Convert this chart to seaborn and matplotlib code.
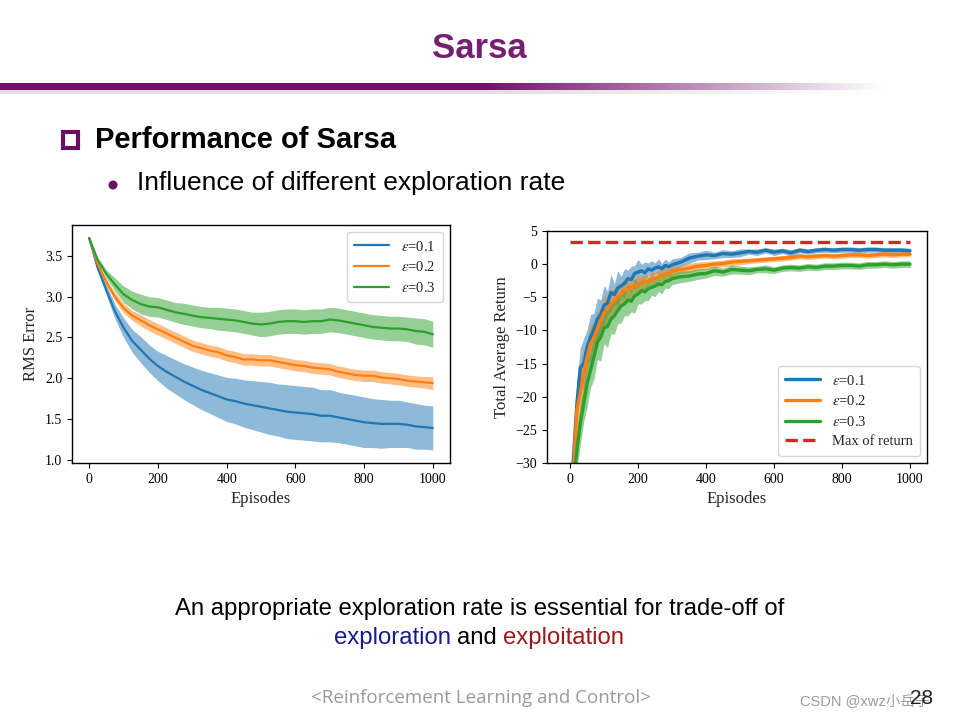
import numpy as np
import pandas as pd
import matplotlib
matplotlib.use("Agg")
import matplotlib.pyplot as plt
import seaborn as sns
from matplotlib.patches import Rectangle, Ellipse

# ---------------- data: left chart (RMS error) ----------------
rms_episodes = list(range(0, 1001, 25))
rms_eps01 = [3.72, 3.35, 3.08, 2.82, 2.62, 2.46, 2.35, 2.24, 2.15, 2.08, 2.02, 1.96, 1.91, 1.86,
             1.82, 1.78, 1.74, 1.72, 1.69, 1.67, 1.65, 1.63, 1.61, 1.59, 1.58, 1.57, 1.56, 1.54,
             1.54, 1.52, 1.50, 1.48, 1.46, 1.45, 1.44, 1.44, 1.44, 1.43, 1.41, 1.40, 1.39]
rms_eps02 = [3.72, 3.40, 3.18, 3.00, 2.86, 2.77, 2.71, 2.65, 2.60, 2.55, 2.50, 2.45, 2.40, 2.37,
             2.34, 2.32, 2.28, 2.26, 2.23, 2.23, 2.22, 2.22, 2.20, 2.18, 2.16, 2.15, 2.13, 2.12,
             2.11, 2.08, 2.06, 2.04, 2.03, 2.03, 2.01, 2.00, 1.99, 1.97, 1.96, 1.95, 1.94]
rms_eps03 = [3.72, 3.45, 3.28, 3.15, 3.03, 2.96, 2.91, 2.88, 2.87, 2.84, 2.81, 2.79, 2.77, 2.75,
             2.74, 2.73, 2.72, 2.71, 2.69, 2.67, 2.66, 2.67, 2.69, 2.70, 2.70, 2.69, 2.70, 2.70,
             2.72, 2.71, 2.69, 2.67, 2.65, 2.63, 2.62, 2.61, 2.61, 2.60, 2.58, 2.57, 2.54]
rms_half01 = [0.0, 0.03, 0.06, 0.09, 0.12, 0.14, 0.16, 0.17, 0.18, 0.20, 0.21, 0.22, 0.23, 0.24,
              0.25, 0.26, 0.27, 0.28, 0.29, 0.30, 0.31, 0.32, 0.32, 0.33, 0.33, 0.33, 0.33, 0.32,
              0.32, 0.31, 0.31, 0.31, 0.31, 0.30, 0.30, 0.29, 0.29, 0.28, 0.28, 0.27, 0.27]
rms_half02 = [0.0, 0.02, 0.04, 0.05, 0.06, 0.06, 0.07, 0.07, 0.07, 0.07, 0.07, 0.07, 0.07, 0.07,
              0.07, 0.07, 0.07, 0.07, 0.07, 0.07, 0.07, 0.07, 0.07, 0.07, 0.07, 0.07, 0.07, 0.07,
              0.07, 0.07, 0.07, 0.07, 0.07, 0.07, 0.07, 0.07, 0.07, 0.07, 0.07, 0.07, 0.08]
rms_half03 = [0.0, 0.03, 0.05, 0.08, 0.10, 0.11, 0.12, 0.12, 0.12, 0.12, 0.12, 0.13, 0.13, 0.13,
              0.13, 0.14, 0.14, 0.14, 0.14, 0.14, 0.15, 0.15, 0.15, 0.15, 0.15, 0.15, 0.15, 0.15,
              0.15, 0.15, 0.15, 0.15, 0.15, 0.15, 0.15, 0.15, 0.15, 0.15, 0.16, 0.16, 0.16]

# ---------------- data: right chart (total average return) ----------------
ret_episodes = list(range(0, 301, 10)) + list(range(325, 1001, 25))
ret_eps01 = [-36, -29, -21, -15.6, -15.0, -12.5, -11.0, -9.8, -8.3, -7.6, -6.2,
             -5.9, -4.3, -4.6, -3.6, -3.3, -2.9, -2.2, -2.3, -1.4, -1.2,
             -1.0, -1.3, -0.7, -0.9, -0.6, -0.4, -0.7, -0.2, -0.4, -0.1,
             0.3, 0.9, 1.2, 1.4, 1.3, 1.6, 1.5, 1.7, 1.9, 1.8, 2.1, 1.8, 2.0, 1.7,
             2.1, 1.9, 2.1, 2.2, 2.1, 2.2, 2.2, 2.1, 2.2, 2.2, 2.1, 2.1, 2.1, 2.0]
ret_eps02 = [-37, -31, -22, -19.5, -16.5, -14.0, -12.0, -11.2, -9.8, -8.6, -7.3,
             -6.8, -6.0, -5.6, -4.9, -4.5, -4.0, -3.9, -3.4, -3.5, -3.1,
             -2.9, -2.6, -2.7, -2.3, -2.1, -1.9, -1.7, -1.5, -1.4, -1.1,
             -0.8, -0.6, -0.3, -0.2, 0.0, 0.1, 0.3, 0.4, 0.5, 0.6, 0.7, 0.8, 0.9, 1.0,
             1.2, 1.1, 1.2, 1.3, 1.2, 1.3, 1.4, 1.4, 1.3, 1.4, 1.5, 1.4, 1.5, 1.5]
ret_eps03 = [-40, -33, -28, -24, -21, -18, -16, -14, -11.8, -11, -9.6,
             -9.4, -8.3, -7.8, -7.0, -6.3, -6.0, -5.4, -5.6, -4.8, -4.5,
             -4.0, -4.2, -3.7, -3.5, -3.3, -3.0, -3.1, -2.6, -2.5, -2.2,
             -1.9, -1.8, -1.5, -1.4, -1.0, -1.2, -0.8, -0.9, -1.0, -0.8, -0.7, -0.9, -0.6, -0.5,
             -0.6, -0.4, -0.5, -0.3, -0.3, -0.2, -0.2, -0.3, -0.1, -0.1, 0.0, -0.1, 0.0, 0.0]
ret_half01 = [1.5, 2.5, 3.5, 3.0, 3.8, 2.6, 3.4, 2.4, 3.2, 2.2, 3.0,
              1.8, 2.8, 1.6, 2.6, 1.5, 2.2, 1.3, 2.0, 1.2, 1.9,
              1.0, 1.6, 0.9, 1.4, 0.8, 1.2, 0.8, 1.0, 0.7, 0.9,
              0.7, 0.8, 0.6, 0.7, 0.5, 0.6, 0.5, 0.6, 0.4, 0.5,
              0.4, 0.5, 0.4, 0.5, 0.4, 0.4, 0.4, 0.4, 0.4, 0.4,
              0.4, 0.4, 0.4, 0.4, 0.4, 0.4, 0.4, 0.4]
ret_half02 = [1.5, 2.5, 3.0, 2.6, 3.2, 2.4, 3.0, 2.2, 2.8, 2.0, 2.6,
              1.7, 2.4, 1.5, 2.2, 1.4, 2.0, 1.2, 1.8, 1.1, 1.6,
              1.0, 1.4, 0.9, 1.2, 0.8, 1.1, 0.7, 1.0, 0.7, 0.8,
              0.6, 0.7, 0.6, 0.6, 0.5, 0.5, 0.5, 0.5, 0.4, 0.4,
              0.4, 0.4, 0.4, 0.4, 0.4, 0.4, 0.4, 0.4, 0.4, 0.4,
              0.4, 0.4, 0.4, 0.4, 0.4, 0.4, 0.4, 0.4]
ret_half03 = [1.5, 2.5, 3.0, 3.2, 2.8, 3.6, 2.6, 3.4, 2.6, 3.6, 2.4,
              3.2, 2.2, 2.8, 2.0, 2.6, 1.8, 2.4, 1.6, 2.6, 1.5,
              2.0, 1.3, 1.8, 1.2, 1.6, 1.1, 1.4, 1.0, 1.2, 0.9,
              0.9, 0.8, 0.8, 0.7, 0.7, 0.6, 0.7, 0.6, 0.6, 0.5,
              0.6, 0.5, 0.5, 0.5, 0.5, 0.5, 0.5, 0.5, 0.5, 0.5,
              0.5, 0.5, 0.5, 0.5, 0.5, 0.5, 0.5, 0.5]
max_return = 3.3

series_labels = [r"$\varepsilon$=0.1", r"$\varepsilon$=0.2", r"$\varepsilon$=0.3"]
series_colors = ["#1f77b4", "#ff7f0e", "#2ca02c"]

rms_xticks = [0, 200, 400, 600, 800, 1000]
rms_yticks = [1.0, 1.5, 2.0, 2.5, 3.0, 3.5]
ret_yticks = [-30, -25, -20, -15, -10, -5, 0, 5]


def long_frame(x, means, halves):
    rows = []
    for lab, m, h in zip(series_labels, means, halves):
        for xi, mi, hi in zip(x, m, h):
            rows.append((xi, mi - hi, lab))
            rows.append((xi, mi, lab))
            rows.append((xi, mi + hi, lab))
    return pd.DataFrame(rows, columns=["Episodes", "value", "series"])


df_rms = long_frame(rms_episodes, [rms_eps01, rms_eps02, rms_eps03],
                    [rms_half01, rms_half02, rms_half03])
df_ret = long_frame(ret_episodes, [ret_eps01, ret_eps02, ret_eps03],
                    [ret_half01, ret_half02, ret_half03])

sns.set_theme(style="ticks")
plt.rcParams["font.family"] = ["Liberation Serif", "DejaVu Serif"]
plt.rcParams["mathtext.fontset"] = "stix"
plt.rcParams["axes.edgecolor"] = "black"
plt.rcParams["xtick.color"] = "black"
plt.rcParams["ytick.color"] = "black"
plt.rcParams["axes.linewidth"] = 1.0

W, H = 960, 720
fig = plt.figure(figsize=(9.6, 7.2), dpi=100)
fig.patch.set_facecolor("white")


def fx(px):
    return px / W


def fy(py):
    return 1 - py / H


palette = dict(zip(series_labels, series_colors))

# ---------------- left axes ----------------
axL = fig.add_axes([fx(72), fy(463), (450 - 72) / W, (463 - 225) / H])
sns.lineplot(data=df_rms, x="Episodes", y="value", hue="series", hue_order=series_labels,
             palette=palette, estimator="median", errorbar=("pi", 100),
             err_kws={"alpha": 0.5, "linewidth": 0}, linewidth=1.6, ax=axL)
axL.set_xlim(-50, 1050)
axL.set_ylim(0.96, 3.88)
axL.set_xticks(rms_xticks)
axL.set_yticks(rms_yticks)
axL.set_xlabel("Episodes", fontsize=12)
axL.set_ylabel("RMS Error", fontsize=12)
axL.tick_params(labelsize=10, length=3.5, width=0.8)
h, l = axL.get_legend_handles_labels()
legL = axL.legend(h[:3], l[:3], loc="upper right", fontsize=10.5, frameon=True,
                  handlelength=2.4, borderpad=0.5, labelspacing=0.45)
legL.get_frame().set_edgecolor("#cccccc")

# ---------------- right axes ----------------
axR = fig.add_axes([fx(547), fy(463), (927 - 547) / W, (463 - 231) / H])
sns.lineplot(data=df_ret, x="Episodes", y="value", hue="series", hue_order=series_labels,
             palette=palette, estimator="median", errorbar=("pi", 100),
             err_kws={"alpha": 0.5, "linewidth": 0}, linewidth=2.4, ax=axR)
sns.lineplot(x=[0, 1000], y=[max_return, max_return], color="#d62728", linestyle="--",
             linewidth=2.4, label="Max of return", ax=axR)
axR.set_xlim(-68, 1050)
axR.set_ylim(-30, 5)
axR.set_xticks(rms_xticks)
axR.set_yticks(ret_yticks)
axR.set_xlabel("Episodes", fontsize=12)
axR.set_ylabel("Total Average Return", fontsize=12)
axR.tick_params(labelsize=10, length=3.5, width=0.8)
h, l = axR.get_legend_handles_labels()
legR = axR.legend(h, l, loc="lower right", fontsize=10.5, frameon=True,
                  handlelength=2.4, borderpad=0.5, labelspacing=0.45)
legR.get_frame().set_edgecolor("#cccccc")

# ---------------- slide decorations ----------------
fig.text(fx(479), fy(48), "Sarsa", ha="center", va="center", fontsize=25, fontweight="bold",
         color="#742070", family=["Liberation Sans", "DejaVu Sans"])

# gradient rule below title
barax = fig.add_axes([0, fy(90), fx(885), 7 / H])
n = 400
grad = np.zeros((1, n, 4))
purple = np.array([0.45, 0.07, 0.42])
xs = np.linspace(0, 1, n)
alpha = np.clip((1.0 - xs) / 0.45, 0, 1)
grad[0, :, :3] = purple
grad[0, :, 3] = alpha
barax.imshow(grad, aspect="auto", extent=[0, 1, 0, 1])
barax.axis("off")
shadow = fig.add_axes([0, fy(94), fx(885), 4 / H])
sh = np.zeros((1, n, 4))
sh[0, :, :3] = 0.75
sh[0, :, 3] = alpha * 0.5
shadow.imshow(sh, aspect="auto", extent=[0, 1, 0, 1])
shadow.axis("off")

# bullets and headings
fig.patches.append(Rectangle((fx(63), fy(148)), 15 / W, 16 / H, transform=fig.transFigure,
                             fill=False, edgecolor="#6a1060", linewidth=3))
fig.text(fx(95), fy(140), "Performance of Sarsa", ha="left", va="center", fontsize=21,
         fontweight="bold", color="black", family=["Liberation Sans", "DejaVu Sans"])
fig.patches.append(Ellipse((fx(113), fy(185)), 9 / W, 9 / H, transform=fig.transFigure,
                           facecolor="#6a1060", edgecolor="none"))
fig.text(fx(137), fy(183), "Influence of different exploration rate", ha="left", va="center",
         fontsize=19, color="black", family=["Liberation Sans", "DejaVu Sans"])

# bottom message
fig.text(fx(480), fy(609), "An appropriate exploration rate is essential for trade-off of",
         ha="center", va="center", fontsize=17.2, color="black",
         family=["Liberation Sans", "DejaVu Sans"])
t1 = fig.text(fx(334), fy(638), "exploration", ha="left", va="center", fontsize=17.2,
              color="#1a1a90", family=["Liberation Sans", "DejaVu Sans"])
fig.canvas.draw()
r = fig.canvas.get_renderer()
bb = t1.get_window_extent(r)
t2 = fig.text(bb.x1 / W + 6 / W, fy(638), "and", ha="left", va="center", fontsize=17.2,
              color="black", family=["Liberation Sans", "DejaVu Sans"])
bb2 = t2.get_window_extent(r)
fig.text(bb2.x1 / W + 6 / W, fy(638), "exploitation", ha="left", va="center", fontsize=17.2,
         color="#a01818", family=["Liberation Sans", "DejaVu Sans"])

# footer
fig.text(fx(481), fy(698), "<Reinforcement Learning and Control>", ha="center", va="center",
         fontsize=13.5, color="#9a9a9a", family=["Open Sans", "DejaVu Sans"])
fig.text(fx(800), fy(701), "CSDN @xwz小岳子", ha="left", va="center", fontsize=10.5,
         color="#9a9a9a", family=["Liberation Sans", "Noto Sans CJK SC", "DejaVu Sans"])
fig.text(fx(922), fy(699), "28", ha="center", va="center", fontsize=15, color="#222222",
         family=["Liberation Sans", "DejaVu Sans"])

fig.savefig("out.png", dpi=100, facecolor="white")
